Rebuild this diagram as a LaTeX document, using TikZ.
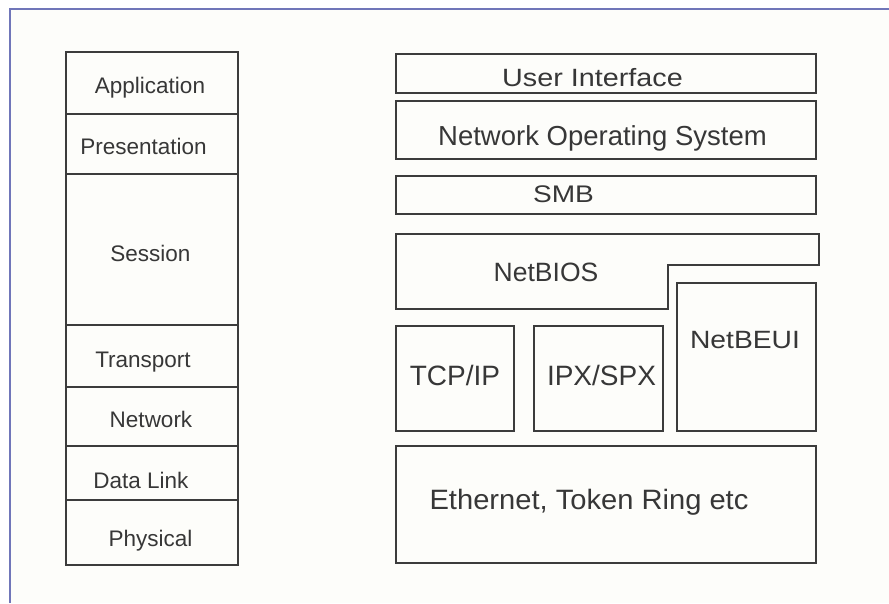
\documentclass[tikz,border=0pt]{standalone}
\usepackage{fontspec}
\setmainfont{Liberation Sans}
\usepackage{graphicx}
\definecolor{boxgray}{RGB}{60,60,60}
\definecolor{txtgray}{RGB}{55,55,55}
\definecolor{framecol}{RGB}{112,118,185}
\definecolor{bgcol}{RGB}{253,253,250}
\begin{document}
\begin{tikzpicture}[x=1pt,y=-1pt,
  box/.style={draw=boxgray,line width=1.5pt},
  lbl/.style={anchor=base,inner sep=0pt,text=txtgray},
  lsz/.style={font=\fontsize{22.5}{26}\selectfont},
  rsz/.style={font=\fontsize{#1}{30}\selectfont}]
\useasboundingbox (0,0) rectangle (889,603);
\fill[white] (0,0) rectangle (889,603);
\fill[bgcol] (10,9) rectangle (889,603);
% outer frame
\draw[framecol,line width=1.8pt] (10,603) -- (10,9) -- (889,9);

% left OSI stack
\draw[box] (66,52) rectangle (238,565);
\foreach \yy in {114,174,325,387,446,500}
  \draw[box] (66,\yy) -- (238,\yy);
\node[lbl,lsz] (app)  at (150,93)  {Application};
\node[lbl,lsz] (pres) at (143.5,154) {Presentation};
\node[lbl,lsz] (sess) at (150.5,261) {Session};
\node[lbl,lsz] (trans) at (143,367) {Transport};
\node[lbl,lsz] (net)  at (151,427) {Network};
\node[lbl,lsz] (dl)   at (141,488) {Data Link};
\node[lbl,lsz] (phys) at (150.5,546) {Physical};

% right stack
\draw[box] (396,54) rectangle (816,93);
\draw[box] (396,101) rectangle (816,159);
\draw[box] (396,176) rectangle (816,214);
\draw[box] (396,234) -- (819,234) -- (819,265) -- (668,265) -- (668,309) -- (396,309) -- cycle;
\draw[box] (677,283) rectangle (816,431);
\draw[box] (396,326) rectangle (514,431);
\draw[box] (534,326) rectangle (663,431);
\draw[box] (396,446) rectangle (816,563);

\node[lbl,rsz=25] (ui)   at (592.5,86) {\scalebox{1.15}[1]{User Interface}};
\node[lbl,rsz=27.5] (nos)  at (602.5,145) {Network Operating System};
\node[lbl,rsz=24] (smb)  at (563.5,202) {\scalebox{1.17}[1]{SMB}};
\node[lbl,rsz=26.5] (nb)   at (546,281) {NetBIOS};
\node[lbl,rsz=25] (nbe)  at (745,348) {\scalebox{1.13}[1]{NetBEUI}};
\node[lbl,rsz=28] (tcp)  at (455,385) {TCP/IP};
\node[lbl,rsz=28] (ipx)  at (601.5,385) {IPX/SPX};
\node[lbl,rsz=28] (eth)  at (589,509) {\scalebox{1.04}[1]{Ethernet, Token Ring etc}};
\end{tikzpicture}
\end{document}
